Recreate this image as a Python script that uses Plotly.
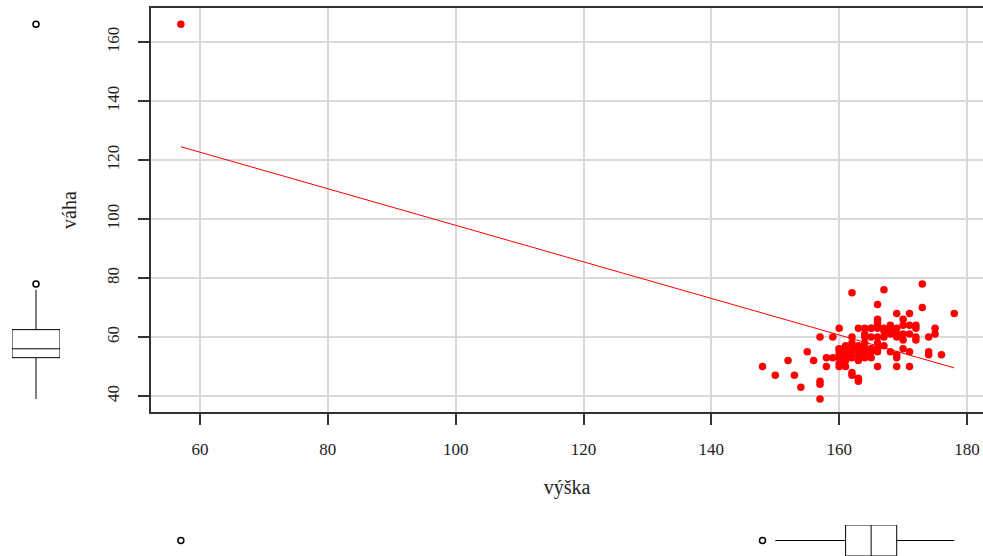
import numpy as np
import plotly.graph_objects as go

# výška (cm) a váha (kg), one pair per person
vyska = [57,
         148, 150, 152, 153, 154, 155, 156, 157, 157, 157, 157, 158, 158, 159, 159,
         160, 160, 160, 160, 160, 160, 160, 160,
         161, 161, 161, 161, 161, 161,
         162, 162, 162, 162, 162, 162, 162, 162,
         163, 163, 163, 163, 163, 163, 163, 163,
         164, 164, 164, 164, 164, 164, 164, 164,
         165, 165, 165, 165, 165, 165, 165,
         166, 166, 166, 166, 166, 166, 166, 166, 166, 166,
         167, 167, 167, 167, 167,
         168, 168, 168, 168, 168,
         169, 169, 169, 169, 169, 169, 169,
         170, 170, 170, 170, 170,
         171, 171, 171, 171, 171,
         172, 172, 172, 172,
         173, 173,
         174, 174, 174,
         175, 175,
         176,
         178]
vaha = [166,
        50, 47, 52, 47, 43, 55, 52, 60, 45, 44, 39, 53, 50, 60, 53,
        63, 56, 56, 55, 54, 53, 51, 50,
        57, 55, 54, 53, 52, 50,
        75, 60, 58, 56, 55, 53, 48, 47,
        63, 57, 56, 55, 54, 52, 46, 45,
        63, 61, 60, 58, 56, 55, 54, 53,
        63, 63, 60, 56, 56, 55, 53,
        71, 66, 65, 64, 63, 60, 58, 56, 55, 50,
        76, 62, 60, 57, 63,
        64, 63, 61, 55, 62,
        68, 63, 61, 60, 54, 53, 50,
        66, 64, 61, 59, 56,
        68, 64, 61, 55, 50,
        64, 63, 60, 59,
        78, 70,
        60, 55, 54,
        63, 61,
        54,
        68]

x_ticks = [60, 80, 100, 120, 140, 160, 180]
y_ticks = [40, 60, 80, 100, 120, 140, 160]

W, H = 983, 556
serif = "Liberation Serif"
axis_col = "#333333"
grid_col = "#d9d9d9"
text_col = "#222222"

x_range = [52.33, 182.5]
y_range = [34.58, 171.53]
main_x = [151 / W, 1.0]
main_y = [1 - 412 / H, 1 - 8 / H]

# least-squares line váha ~ výška
vx = np.array(vyska, dtype=float)
vy = np.array(vaha, dtype=float)
slope, intercept = np.polyfit(vx, vy, 1)
line_x = [vx.min(), vx.max()]
line_y = [intercept + slope * v for v in line_x]

fig = go.Figure()

fig.add_trace(go.Scatter(
    x=vyska, y=vaha, mode="markers",
    marker=dict(color="#ff0000", size=7.5, line=dict(width=0)),
    xaxis="x", yaxis="y", showlegend=False, hoverinfo="x+y"))

fig.add_trace(go.Scatter(
    x=line_x, y=line_y, mode="lines",
    line=dict(color="#ff0000", width=1),
    xaxis="x", yaxis="y", showlegend=False, hoverinfo="skip"))

box_style = dict(
    fillcolor="rgba(255,255,255,0)",
    line=dict(color="#000000", width=1),
    whiskerwidth=0,
    boxpoints="outliers",
    marker=dict(symbol="circle-open", color="#000000", size=6, line=dict(width=1.5)),
    width=1,
    quartilemethod="inclusive",
    showlegend=False,
)

# marginal boxplot of váha (left)
fig.add_trace(go.Box(y=vaha, x0=0, xaxis="x2", yaxis="y3", **box_style))
# marginal boxplot of výška (bottom)
fig.add_trace(go.Box(x=vyska, y0=0, orientation="h", xaxis="x4", yaxis="y4", **box_style))

tick_font = dict(family=serif, size=17, color=text_col)
title_font = dict(family=serif, size=20, color=text_col)

fig.update_layout(
    width=W, height=H,
    margin=dict(l=0, r=0, t=0, b=0),
    paper_bgcolor="white", plot_bgcolor="white",
    font=dict(family=serif),
    xaxis=dict(
        domain=main_x, range=x_range, anchor="y",
        tickvals=x_ticks, ticks="outside", ticklen=11, tickwidth=1.5, tickcolor=axis_col,
        showline=True, linecolor=axis_col, linewidth=1.5, mirror=True,
        showgrid=True, gridcolor=grid_col, gridwidth=1.5, zeroline=False,
        tickfont=tick_font, ticklabelstandoff=10,
        title=dict(text="výška", font=title_font, standoff=22),
    ),
    yaxis=dict(
        domain=main_y, range=y_range, anchor="x",
        tickvals=y_ticks, ticks="outside", ticklen=11, tickwidth=1.5, tickcolor=axis_col,
        showline=True, linecolor=axis_col, linewidth=1.5, mirror=False,
        showgrid=True, gridcolor=grid_col, gridwidth=1.5, zeroline=False,
        tickangle=-90, tickfont=tick_font, ticklabelstandoff=12,
        title=dict(text="váha", font=title_font, standoff=22),
    ),
    xaxis2=dict(domain=[12 / W, 60 / W], range=[-0.5, 0.5], anchor="y3", visible=False),
    yaxis3=dict(domain=main_y, range=y_range, anchor="x2", visible=False),
    xaxis4=dict(domain=main_x, range=x_range, anchor="y4", visible=False),
    yaxis4=dict(domain=[1 - 556 / H, 1 - 525 / H], range=[-0.5, 0.5], anchor="x4", visible=False),
)

fig.write_html("out.html")
